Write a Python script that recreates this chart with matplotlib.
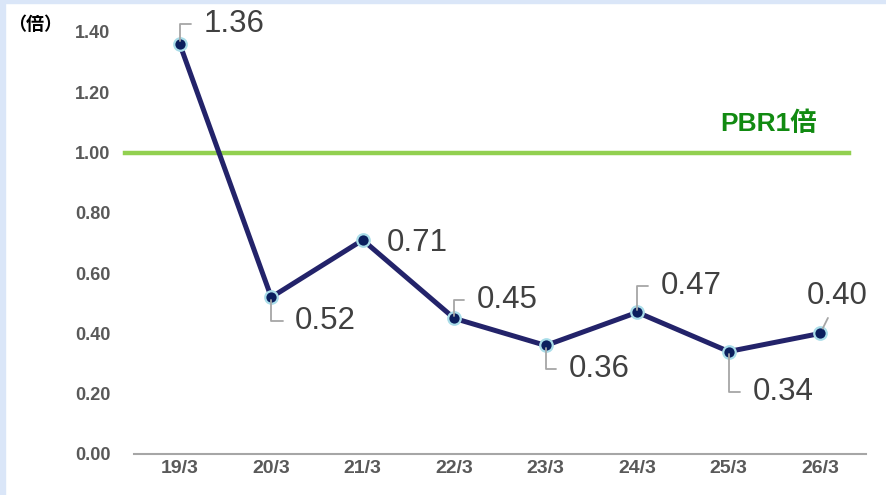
import matplotlib.pyplot as plt
from matplotlib.patches import Rectangle

plt.rcParams['font.family'] = ['Liberation Sans', 'Noto Sans CJK JP', 'DejaVu Sans']

years = ["19/3", "20/3", "21/3", "22/3", "23/3", "24/3", "25/3", "26/3"]
pbr = [1.36, 0.52, 0.71, 0.45, 0.36, 0.47, 0.34, 0.40]
# label offsets in pixels (dx, dy) from each point, and whether a leader line is drawn
offsets = [(24, 20), (24, -24), (24, -3), (22, 18), (23, -24), (23, 26), (24, -40), (17, 37)]
leader = [True, True, False, True, True, True, True, True]

fig = plt.figure(figsize=(8.86, 4.95), dpi=100)
fig.patches.append(Rectangle((0, 0), 5 / 886, 1, transform=fig.transFigure, color='#DAE6F8', zorder=0))
fig.patches.append(Rectangle((0, 1 - 3 / 495), 1, 3 / 495, transform=fig.transFigure, color='#DAE6F8', zorder=0))

ax = fig.add_axes([134 / 886, 41 / 495, 732 / 886, 422 / 495])
x = list(range(len(years)))

# PBR 1x reference line
ax.plot([-0.6, 7.31], [1.0, 1.0], color='#92D050', lw=3.2, clip_on=False, zorder=2)
ax.text(6.44, 1.095, "PBR1倍", color='#118A11', fontsize=19, fontweight='bold',
        ha='center', va='center')

ax.plot(x, pbr, color='#23236A', lw=3.6, zorder=3, solid_capstyle='round')
ax.plot(x, pbr, 'o', ms=9, mfc='#0B1F5E', mec='#A9DDE9', mew=1.6, zorder=4, ls='none')

px = 0.72  # points per pixel
for i, v in enumerate(pbr):
    dx, dy = offsets[i]
    if i == len(pbr) - 1:
        ax.annotate(f"{v:.2f}", (i, v), xytext=(dx * px, dy * px), textcoords='offset points',
                    ha='center', va='center', fontsize=22.5, color='#404040', zorder=5,
                    arrowprops=dict(arrowstyle='-', color='#A6A6A6', lw=1.3, relpos=(0.4, 0),
                                    shrinkA=3, shrinkB=4))
    elif leader[i]:
        ax.annotate(f"{v:.2f}", (i, v), xytext=(dx * px, dy * px), textcoords='offset points',
                    ha='left', va='center', fontsize=22.5, color='#404040', zorder=5,
                    arrowprops=dict(arrowstyle='-', color='#A6A6A6', lw=1.3, relpos=(0, 0.5),
                                    connectionstyle='angle,angleA=0,angleB=90,rad=0',
                                    shrinkA=7, shrinkB=2))
    else:
        ax.annotate(f"{v:.2f}", (i, v), xytext=(dx * px, dy * px), textcoords='offset points',
                    ha='left', va='center', fontsize=22.5, color='#404040', zorder=5)

ax.set_xlim(-0.5, 7.5)
ax.set_ylim(0, 1.4)
ax.set_yticks([0, 0.2, 0.4, 0.6, 0.8, 1.0, 1.2, 1.4])
ax.set_yticklabels([f"{t:.2f}" for t in ax.get_yticks()])
ax.set_xticks(x)
ax.set_xticklabels(years)
for lab in ax.get_yticklabels():
    lab.set_fontweight('bold')
    lab.set_fontsize(13)
    lab.set_color('#595959')
for lab in ax.get_xticklabels():
    lab.set_fontweight('bold')
    lab.set_fontsize(14)
    lab.set_color('#595959')
ax.tick_params(axis='y', length=0, pad=17)
ax.tick_params(axis='x', length=0, pad=4)
for s in ['top', 'right', 'left']:
    ax.spines[s].set_visible(False)
ax.spines['bottom'].set_color('#A6A6A6')
ax.spines['bottom'].set_linewidth(1.5)

fig.text(8 / 886, 1 - 25 / 495, "（倍）", fontsize=13, fontweight='bold', color='#000000',
         ha='left', va='center', family=['Noto Sans CJK JP', 'DejaVu Sans'])

fig.savefig("out.png", dpi=100)
